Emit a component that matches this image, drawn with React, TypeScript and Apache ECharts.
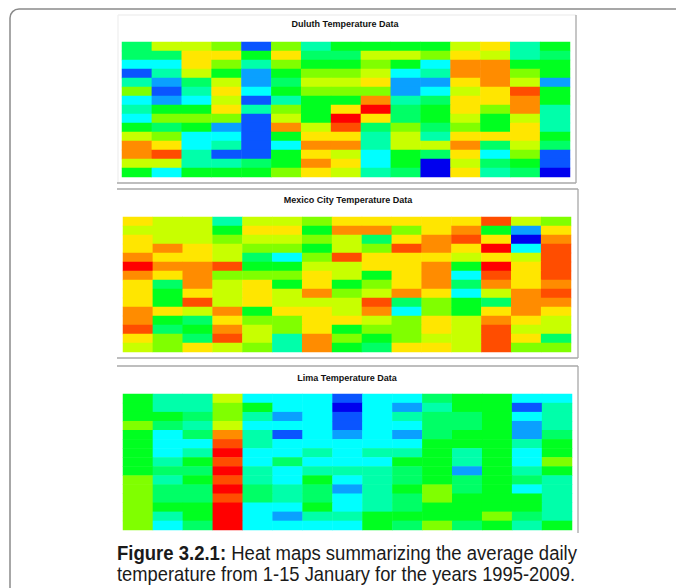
import React, { useEffect, useRef } from "react";
import * as echarts from "echarts";

const years = ["1995","1996","1997","1998","1999","2000","2001","2002","2003","2004","2005","2006","2007","2008","2009"];
const days = ["1","2","3","4","5","6","7","8","9","10","11","12","13","14","15"];

// colour level of each cell (0 = coldest, 12 = warmest), rows = days 1..15, cols = years
const duluth = [
  [5,8,8,7,1,7,4,6,6,6,6,8,9,4,6],
  [5,5,9,9,6,9,5,5,8,8,7,9,8,4,5],
  [3,3,9,7,4,7,6,6,7,6,3,10,10,6,6],
  [1,4,8,6,2,6,7,7,8,3,4,10,10,7,6],
  [4,2,5,8,2,5,8,8,9,2,2,9,10,8,2],
  [7,1,4,9,3,6,7,7,7,2,3,8,9,11,6],
  [3,2,3,8,1,4,6,6,10,4,5,9,9,10,6],
  [4,6,6,9,4,7,6,9,12,5,6,9,7,10,4],
  [3,7,7,7,1,8,6,12,9,5,6,8,6,8,4],
  [6,5,6,2,1,10,8,11,5,7,5,7,6,9,4],
  [8,7,3,3,1,6,9,9,4,8,4,9,9,9,6],
  [10,9,3,4,1,3,10,10,4,8,8,10,5,8,5],
  [10,11,4,1,1,6,9,8,3,6,5,9,3,7,1],
  [8,8,4,4,5,6,10,9,3,6,0,8,5,6,1],
  [6,3,6,6,6,7,9,8,4,5,0,9,4,5,0],
];

const mexicoCity = [
  [9,8,8,4,8,8,7,9,9,9,9,9,11,8,7],
  [8,8,8,6,9,9,6,10,10,7,9,10,6,2,9],
  [9,8,8,7,8,8,7,8,5,9,10,11,9,0,10],
  [9,10,9,8,7,7,6,8,7,11,10,9,12,3,11],
  [10,9,9,8,5,3,7,11,9,9,9,8,9,8,11],
  [12,10,10,11,6,6,8,8,9,9,10,6,12,9,11],
  [10,9,10,7,7,7,9,8,6,9,10,3,11,9,11],
  [9,5,10,8,9,6,9,6,7,9,10,5,10,9,10],
  [9,6,9,8,9,8,10,7,8,10,9,3,8,10,11],
  [9,6,11,8,9,8,8,8,11,5,7,6,5,10,10],
  [10,9,8,10,6,9,9,8,10,3,7,6,9,10,9],
  [10,6,5,9,7,7,9,9,8,7,9,8,10,9,8],
  [11,5,6,10,8,7,9,6,7,7,9,8,11,8,8],
  [9,7,5,11,8,4,10,7,6,7,8,8,11,9,5],
  [8,7,9,8,7,4,10,6,5,9,9,8,11,7,7],
];

const lima = [
  [6,4,4,8,3,3,3,1,3,3,5,6,6,3,3],
  [6,4,4,7,6,3,3,0,3,2,4,6,6,1,4],
  [6,6,5,7,4,2,3,1,3,4,5,5,6,3,4],
  [7,5,4,8,3,3,3,1,3,3,5,5,6,2,4],
  [6,3,5,10,4,1,3,2,3,2,5,6,6,2,5],
  [6,3,3,11,4,3,3,3,3,3,6,6,6,4,6],
  [6,3,4,12,3,3,4,3,4,4,6,4,6,3,6],
  [6,4,6,11,3,5,3,3,3,6,6,4,6,3,7],
  [6,5,5,12,4,3,4,4,4,5,6,2,6,4,6],
  [7,4,6,11,4,3,6,3,4,5,6,5,6,5,4],
  [7,5,5,12,5,4,5,2,4,6,7,5,6,3,4],
  [7,5,5,11,5,4,5,3,4,5,7,6,6,6,4],
  [7,6,6,12,3,3,6,3,4,5,6,6,6,6,4],
  [7,4,6,12,3,2,4,4,6,6,6,6,7,5,4],
  [7,3,5,12,3,3,3,3,6,5,7,5,6,4,6],
];

const titles = ["Duluth Temperature Data", "Mexico City Temperature Data", "Lima Temperature Data"];
const captionBold = "Figure 3.2.1:";
const captionLine1 = " Heat maps summarizing the average daily";
const captionLine2 = "temperature from 1-15 January for the years 1995-2009.";

const palette = [
  "#0000ee", "#0a55ff", "#0aa0ff", "#00ffff", "#00ffaa", "#00ff66", "#00ff20",
  "#80ff00", "#c8ff00", "#ffe600", "#ff8c00", "#ff4d00", "#ff0000",
];

const toCells = (m: number[][]) => m.flatMap((row, d) => row.map((v, y) => [y, d, v]));

const CAP_FONT = '"Liberation Sans Narrow", "Arial Narrow", "Liberation Sans", Arial, sans-serif';

function measure(font: string, text: string) {
  const c = document.createElement("canvas").getContext("2d");
  if (!c) return text.length * 8;
  c.font = font;
  return c.measureText(text).width;
}

export default function App() {
  const ref = useRef<HTMLDivElement>(null);
  useEffect(() => {
    if (!ref.current) return;
    const chart = echarts.init(ref.current, undefined, { renderer: "svg" });
    const grids = [
      { left: 122, top: 42, width: 448, height: 135 },
      { left: 123, top: 217, width: 448, height: 135 },
      { left: 123, top: 394, width: 449, height: 136 },
    ];
    const titlePos = [
      [345, 24],
      [348, 200],
      [347, 378],
    ];
    const datasets = [duluth, mexicoCity, lima];

    const fs = 20;
    const boldFont = `bold ${fs}px ${CAP_FONT}`;
    const normFont = `${fs}px ${CAP_FONT}`;
    const wb = measure(boldFont, captionBold);
    const w1 = wb + measure(normFont, captionLine1);
    const w2 = measure(normFont, captionLine2);
    const s1 = 460 / w1;
    const s2 = 458 / w2;

    const line = (x1: number, y1: number, x2: number, y2: number, c = "#a8a8a8") => ({
      type: "line",
      shape: { x1, y1, x2, y2 },
      style: { stroke: c, lineWidth: 1.3 },
      silent: true,
    });

    chart.setOption({
      animation: false,
      backgroundColor: "#ffffff",
      grid: grids.map((g) => ({ ...g, containLabel: false, show: false })),
      xAxis: grids.map((_, i) => ({
        type: "category",
        gridIndex: i,
        data: years,
        show: false,
      })),
      yAxis: grids.map((_, i) => ({
        type: "category",
        gridIndex: i,
        data: days,
        inverse: true,
        show: false,
      })),
      visualMap: {
        type: "piecewise",
        show: false,
        seriesIndex: [0, 1, 2],
        dimension: 2,
        pieces: palette.map((color, i) => ({ value: i, color })),
      },
      series: datasets.map((m, i) => ({
        type: "heatmap",
        name: titles[i],
        xAxisIndex: i,
        yAxisIndex: i,
        data: toCells(m),
        itemStyle: { borderWidth: 0 },
        emphasis: { disabled: true },
      })),
      graphic: [
        {
          type: "rect",
          shape: { x: 10, y: 9, width: 720, height: 640, r: 9 },
          style: { fill: "none", stroke: "#8a8a8a", lineWidth: 1.5 },
          silent: true,
          z: -10,
        },
        line(118, 15, 576, 15, "#f0f0f0"),
        line(118, 15, 118, 183, "#f0f0f0"),
        line(576, 15, 576, 183),
        line(117, 183, 576, 183),
        line(117, 189, 578, 189),
        line(578, 189, 578, 358),
        line(117, 358, 578, 358),
        line(117, 366, 578, 366),
        line(578, 366, 578, 533),
        ...titles.map((t, i) => ({
          type: "text",
          x: titlePos[i][0],
          y: titlePos[i][1],
          style: {
            text: t,
            align: "center",
            verticalAlign: "middle",
            font: 'bold 9px "Liberation Sans", Arial, sans-serif',
            fill: "#111111",
          },
          silent: true,
        })),
        {
          type: "group",
          x: 117,
          y: 553,
          scaleX: s1,
          children: [
            {
              type: "text",
              x: 0,
              y: 0,
              style: { text: captionBold, font: boldFont, fill: "#1a1a1a", verticalAlign: "middle" },
            },
            {
              type: "text",
              x: wb,
              y: 0,
              style: { text: captionLine1, font: normFont, fill: "#1a1a1a", verticalAlign: "middle" },
            },
          ],
        },
        {
          type: "group",
          x: 117,
          y: 574,
          scaleX: s2,
          children: [
            {
              type: "text",
              x: 0,
              y: 0,
              style: { text: captionLine2, font: normFont, fill: "#1a1a1a", verticalAlign: "middle" },
            },
          ],
        },
      ],
    });
    return () => chart.dispose();
  }, []);
  return (
    <div
      ref={ref}
      style={{ position: "fixed", left: 0, top: 0, width: 676, height: 588, background: "#fff" }}
    />
  );
}
